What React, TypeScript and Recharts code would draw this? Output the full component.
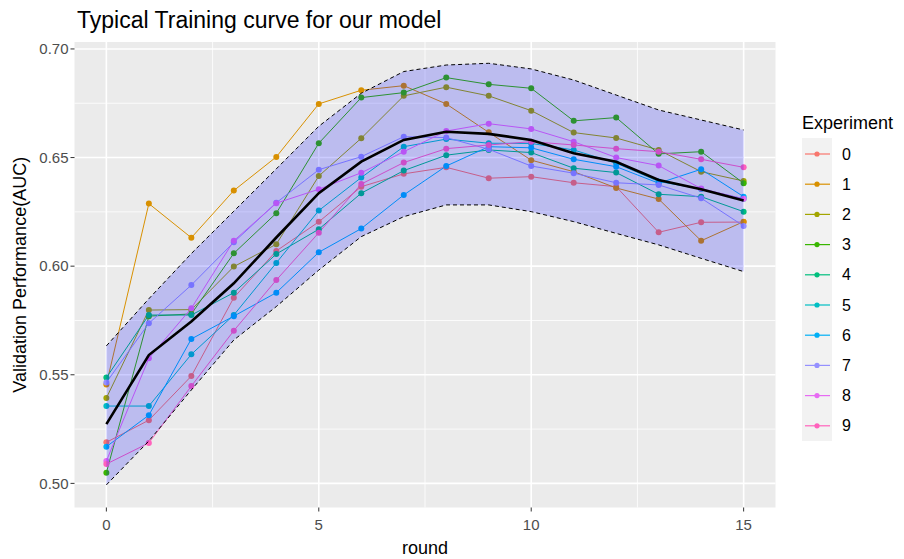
import {
  ComposedChart,
  Line,
  Area,
  XAxis,
  YAxis,
  CartesianGrid,
  Legend,
} from "recharts";

const rounds = [0, 1, 2, 3, 4, 5, 6, 7, 8, 9, 10, 11, 12, 13, 14, 15];

const exp0 = [0.5189, 0.5291, 0.5494, 0.5855, 0.607, 0.6204, 0.6366, 0.6425, 0.6455, 0.6405, 0.6412, 0.6384, 0.6366, 0.6156, 0.6202, 0.6203];
const exp1 = [0.5455, 0.6288, 0.6131, 0.6348, 0.6503, 0.6747, 0.681, 0.6831, 0.6747, 0.6616, 0.6488, 0.6435, 0.636, 0.6309, 0.6117, 0.6205];
const exp2 = [0.5393, 0.5798, 0.58, 0.5998, 0.6101, 0.6415, 0.6589, 0.6784, 0.6824, 0.6784, 0.6716, 0.6615, 0.659, 0.6535, 0.6435, 0.6392];
const exp3 = [0.5049, 0.577, 0.578, 0.6059, 0.6244, 0.6566, 0.6776, 0.6799, 0.6868, 0.6837, 0.6819, 0.6669, 0.6684, 0.6517, 0.6527, 0.6382];
const exp4 = [0.5487, 0.5775, 0.5775, 0.5878, 0.6056, 0.617, 0.6336, 0.644, 0.6511, 0.6535, 0.6523, 0.6451, 0.6431, 0.6331, 0.632, 0.6251];
const exp5 = [0.5356, 0.5356, 0.5594, 0.5775, 0.6015, 0.6256, 0.6408, 0.655, 0.6585, 0.6566, 0.6565, 0.6535, 0.6474, 0.639, 0.6355, 0.631];
const exp6 = [0.5169, 0.5314, 0.5665, 0.577, 0.5878, 0.6064, 0.6173, 0.6328, 0.6461, 0.655, 0.6545, 0.6492, 0.6458, 0.6382, 0.6446, 0.632];
const exp7 = [0.5465, 0.5737, 0.5913, 0.611, 0.6292, 0.6444, 0.6504, 0.6596, 0.6592, 0.6538, 0.6461, 0.6428, 0.6384, 0.6374, 0.6313, 0.6185];
const exp8 = [0.5103, 0.5576, 0.5806, 0.6117, 0.629, 0.6354, 0.643, 0.6527, 0.6622, 0.6656, 0.6632, 0.6573, 0.65, 0.6463, 0.6357, 0.631];
const exp9 = [0.5089, 0.5186, 0.5448, 0.5703, 0.5936, 0.6154, 0.6378, 0.6477, 0.6541, 0.6558, 0.6573, 0.6558, 0.6541, 0.6527, 0.6492, 0.6455];

const meanAUC = [0.5273, 0.5591, 0.5745, 0.5921, 0.6132, 0.6336, 0.6481, 0.6581, 0.6619, 0.6609, 0.6581, 0.652, 0.6481, 0.6397, 0.6354, 0.6302];
const upperBand = [0.5633, 0.585, 0.6058, 0.6253, 0.6448, 0.6644, 0.6796, 0.6896, 0.6926, 0.6934, 0.6908, 0.6857, 0.6788, 0.6719, 0.6673, 0.6627];
const lowerBand = [0.4993, 0.5195, 0.543, 0.566, 0.5814, 0.5982, 0.6136, 0.6228, 0.6282, 0.6282, 0.6251, 0.6205, 0.6151, 0.6098, 0.6036, 0.5975];

const experimentNames = ["0", "1", "2", "3", "4", "5", "6", "7", "8", "9"];
const experimentColors = [
  "#F8766D", "#D89000", "#A3A500", "#39B600", "#00BF7D",
  "#00BFC4", "#00B0F6", "#9590FF", "#E76BF3", "#FF62BC",
];
const experiments = [exp0, exp1, exp2, exp3, exp4, exp5, exp6, exp7, exp8, exp9];

const xTicks = [0, 5, 10, 15];
const xMinor = [2.5, 7.5, 12.5];
const yTicks = [0.5, 0.55, 0.6, 0.65, 0.7];
const yMinor = [0.525, 0.575, 0.625, 0.675];
const xDomain = [-0.75, 15.75];
const yDomain = [0.4889, 0.7032];

const data = rounds.map((r, i) => {
  const row: Record<string, any> = {
    round: r,
    mean: meanAUC[i],
    upper: upperBand[i],
    lower: lowerBand[i],
    band: [lowerBand[i], upperBand[i]],
  };
  experiments.forEach((s, k) => {
    row["e" + k] = s[i];
  });
  return row;
});

const FONT = "'Liberation Sans', Arial, sans-serif";

function ExperimentLegend() {
  return (
    <svg width={104} height={345} style={{ display: "block" }}>
      <text x={2} y={21} fontSize={18} fill="#000">
        Experiment
      </text>
      <rect x={2} y={30} width={30} height={303} fill="#F2F2F2" />
      {experimentNames.map((name, i) => {
        const cy = 46 + i * 30.2;
        return (
          <g key={name}>
            <line x1={5} x2={30} y1={cy} y2={cy} stroke={experimentColors[i]} strokeWidth={1.2} />
            <circle cx={17} cy={cy} r={2.6} fill={experimentColors[i]} />
            <text x={42} y={cy + 5.5} fontSize={16} fill="#000">
              {name}
            </text>
          </g>
        );
      })}
    </svg>
  );
}

export default function App() {
  return (
    <div
      style={{
        position: "absolute",
        left: 0,
        top: 0,
        width: 904,
        height: 559,
        background: "#fff",
        fontFamily: FONT,
      }}
    >
      <div
        style={{
          position: "absolute",
          left: 77,
          top: 9,
          fontSize: 23,
          lineHeight: "23px",
          color: "#000",
          whiteSpace: "nowrap",
        }}
      >
        Typical Training curve for our model
      </div>
      <div style={{ position: "absolute", left: 0, top: 0 }}>
        <ComposedChart
          width={904}
          height={559}
          data={data}
          margin={{ top: 42, right: 24.5, bottom: 0, left: 0 }}
        >
          <CartesianGrid
            fill="#EBEBEB"
            stroke="#FFFFFF"
            strokeWidth={0.8}
            horizontalValues={yMinor}
            verticalValues={xMinor}
          />
          <CartesianGrid
            stroke="#FFFFFF"
            strokeWidth={1.6}
            horizontalValues={yTicks}
            verticalValues={xTicks}
          />
          <XAxis
            dataKey="round"
            type="number"
            domain={xDomain}
            ticks={xTicks}
            allowDataOverflow
            axisLine={false}
            tickLine={{ stroke: "#333333" }}
            tickSize={4}
            tickMargin={8}
            height={51.5}
            tick={{ fill: "#4D4D4D", fontSize: 15 }}
            label={{ value: "round", position: "insideBottom", offset: 5, fill: "#000", fontSize: 18 }}
          />
          <YAxis
            type="number"
            domain={yDomain}
            ticks={yTicks}
            allowDataOverflow
            axisLine={false}
            tickLine={{ stroke: "#333333" }}
            tickSize={4}
            tickMargin={2}
            width={74.5}
            tick={{ fill: "#4D4D4D", fontSize: 15 }}
            tickFormatter={(v: number) => v.toFixed(2)}
            label={{
              value: "Validation Performance(AUC)",
              angle: -90,
              position: "insideLeft",
              offset: 20,
              fill: "#000",
              fontSize: 18,
              style: { textAnchor: "middle" },
            }}
          />
          {experimentNames.map((name, k) => (
            <Line
              key={name}
              name={name}
              dataKey={"e" + k}
              type="linear"
              stroke={experimentColors[k]}
              strokeWidth={1}
              dot={{ r: 3, fill: experimentColors[k], stroke: "none" }}
              activeDot={false}
              isAnimationActive={false}
            />
          ))}
          <Legend
            layout="vertical"
            align="right"
            verticalAlign="middle"
            wrapperStyle={{ left: 800, top: 108, width: 104, height: 345 }}
            content={() => <ExperimentLegend />}
          />
        </ComposedChart>
      </div>
      {/* ribbon, its dashed edges and the mean drawn on top of the experiments */}
      <div style={{ position: "absolute", left: 0, top: 0 }}>
        <ComposedChart
          width={904}
          height={559}
          data={data}
          margin={{ top: 42, right: 128.5, bottom: 51.5, left: 74.5 }}
        >
          <XAxis dataKey="round" type="number" domain={xDomain} allowDataOverflow hide />
          <YAxis type="number" domain={yDomain} allowDataOverflow hide />
          <Area
            dataKey="band"
            type="linear"
            fill="#0000FF"
            fillOpacity={0.2}
            stroke="none"
            legendType="none"
            activeDot={false}
            isAnimationActive={false}
          />
          <Line
            dataKey="upper"
            type="linear"
            stroke="#000"
            strokeWidth={1}
            strokeDasharray="4 3"
            dot={false}
            activeDot={false}
            legendType="none"
            isAnimationActive={false}
          />
          <Line
            dataKey="lower"
            type="linear"
            stroke="#000"
            strokeWidth={1}
            strokeDasharray="4 3"
            dot={false}
            activeDot={false}
            legendType="none"
            isAnimationActive={false}
          />
          <Line
            dataKey="mean"
            type="linear"
            stroke="#000"
            strokeWidth={2.6}
            dot={false}
            activeDot={false}
            legendType="none"
            isAnimationActive={false}
          />
        </ComposedChart>
      </div>
    </div>
  );
}
